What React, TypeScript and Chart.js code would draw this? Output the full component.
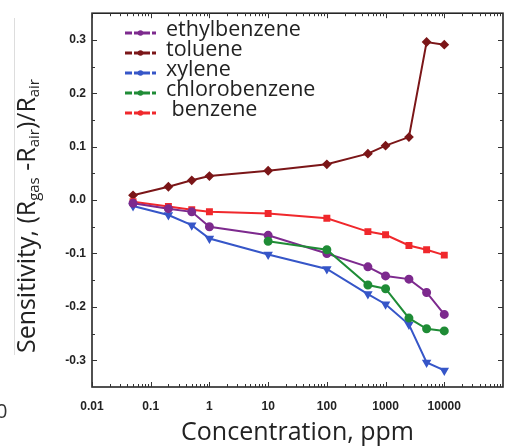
import React, { useEffect, useRef } from "react";
import { Chart, registerables } from "chart.js";

Chart.register(...registerables);

const concentrations = [0.05, 0.2, 0.5, 1, 10, 100, 500, 1000, 2500, 5000, 10000];
const ethylbenzene = [-0.006, -0.016, -0.022, -0.05, -0.066, -0.1, -0.125, -0.142, -0.148, -0.173, -0.214];
const toluene = [0.009, 0.025, 0.037, 0.045, 0.055, 0.067, 0.087, 0.102, 0.118, 0.296, 0.291];
const xylene = [-0.011, -0.028, -0.047, -0.072, -0.102, -0.129, -0.176, -0.195, -0.233, -0.304, -0.319];
const chlorobenzene = [null, null, null, null, -0.077, -0.093, -0.159, -0.166, -0.221, -0.241, -0.245];
const benzene = [-0.003, -0.012, -0.018, -0.022, -0.025, -0.034, -0.059, -0.065, -0.085, -0.093, -0.103];

const seriesNames = ["ethylbenzene", "toluene", "xylene", "chlorobenzene", "benzene"];
const legendLabels = ["ethylbenzene", "toluene", "xylene", "chlorobenzene", " benzene"];
const seriesValues = [ethylbenzene, toluene, xylene, chlorobenzene, benzene];
const seriesColors = ["#7d2a8e", "#7b1618", "#3656c8", "#1f8c36", "#f0282c"];
const seriesPoints = ["circle", "rectRot", "triangle", "circle", "rect"];
const seriesRotation = [0, 0, 180, 0, 0];
const seriesOrder = [2, 3, 3, 1, 2];

const xTickValues = [0.01, 0.1, 1, 10, 100, 1000, 10000];
const xTickLabels = ["0.01", "0.1", "1", "10", "100", "1000", "10000"];
const yTickValues = [0.3, 0.2, 0.1, 0.0, -0.1, -0.2, -0.3];
const yTickLabels = ["0.3", "0.2", "0.1", "0.0", "-0.1", "-0.2", "-0.3"];

const xTitle = "Concentration, ppm";
const yTitleParts: { t: string; sub: boolean }[] = [
  { t: "Sensitivity, (R", sub: false },
  { t: "gas", sub: true },
  { t: " -R", sub: false },
  { t: "air", sub: true },
  { t: ")/R", sub: false },
  { t: "air", sub: true },
];

const TITLE_FONT = '"Open Sans", "Liberation Sans", sans-serif';

function fitSize(ctx: CanvasRenderingContext2D, text: string, target: number, family: string) {
  ctx.font = `100px ${family}`;
  const w = ctx.measureText(text).width;
  return (100 * target) / w;
}

const decor = {
  id: "decor",
  afterDraw(chart: any) {
    const { ctx, chartArea: a, scales } = chart;
    const xs = scales.x;
    const ys = scales.y;
    ctx.save();
    // frame
    ctx.strokeStyle = "#262626";
    ctx.lineWidth = 1.6;
    ctx.strokeRect(a.left, a.top, a.right - a.left, a.bottom - a.top);
    // ticks
    ctx.lineWidth = 1;
    ctx.strokeStyle = "#333";
    const seg = (x1: number, y1: number, x2: number, y2: number) => {
      ctx.beginPath();
      ctx.moveTo(x1, y1);
      ctx.lineTo(x2, y2);
      ctx.stroke();
    };
    for (let d = -2; d < 5; d++) {
      for (let m = 1; m <= 9; m++) {
        const v = m * Math.pow(10, d);
        const px = Math.round(xs.getPixelForValue(v)) + 0.5;
        const len = m === 1 ? 5 : 3;
        seg(px, a.bottom, px, a.bottom - len);
        seg(px, a.top, px, a.top + len);
      }
    }
    for (let k = -6; k <= 6; k++) {
      const py = Math.round(ys.getPixelForValue(k * 0.05)) + 0.5;
      const len = k % 2 === 0 ? 5 : 3;
      seg(a.left, py, a.left + len, py);
      seg(a.right, py, a.right - len, py);
    }

    // x title
    ctx.fillStyle = "#222";
    const xs2 = fitSize(ctx, xTitle, 233, TITLE_FONT);
    ctx.font = `${xs2}px ${TITLE_FONT}`;
    ctx.textAlign = "center";
    ctx.textBaseline = "alphabetic";
    ctx.fillText(xTitle, (a.left + a.right) / 2, 440);

    // y title with subscripts
    const base = 20;
    const subSize = 12;
    let total = 0;
    const widths = yTitleParts.map((p) => {
      ctx.font = `${p.sub ? subSize : base}px ${TITLE_FONT}`;
      const w = ctx.measureText(p.t).width;
      total += w;
      return w;
    });
    const scale = 274 / total;
    ctx.save();
    ctx.translate(35, 216);
    ctx.rotate(-Math.PI / 2);
    ctx.textAlign = "left";
    let cx = -274 / 2;
    yTitleParts.forEach((p, i) => {
      ctx.font = `${(p.sub ? subSize : base) * scale}px ${TITLE_FONT}`;
      ctx.fillText(p.t, cx, p.sub ? 4 : 0);
      cx += widths[i] * scale;
    });
    ctx.restore();

    // legend
    const lsize = fitSize(ctx, legendLabels[0], 135, TITLE_FONT);
    seriesNames.forEach((_, i) => {
      const ly = 33 + i * 20;
      ctx.strokeStyle = seriesColors[i];
      ctx.lineWidth = 3;
      ctx.setLineDash([7, 2]);
      seg(125, ly, 156, ly);
      ctx.setLineDash([]);
      ctx.fillStyle = seriesColors[i];
      ctx.beginPath();
      ctx.arc(140.5, ly, 2.8, 0, Math.PI * 2);
      ctx.fill();
      ctx.fillStyle = "#222";
      ctx.font = `${lsize}px ${TITLE_FONT}`;
      ctx.textAlign = "left";
      ctx.textBaseline = "alphabetic";
      ctx.fillText(legendLabels[i], 166, ly + 3);
    });

    // stray fragments at the left edge of the crop
    ctx.strokeStyle = "#dddddd";
    ctx.lineWidth = 1;
    seg(14.5, 18, 14.5, 355);
    ctx.fillStyle = "#333";
    ctx.font = `20px ${TITLE_FONT}`;
    ctx.fillText("0", -4, 418);
    ctx.restore();
  },
};

export default function App() {
  const ref = useRef<HTMLCanvasElement | null>(null);
  useEffect(() => {
    const canvas = ref.current;
    if (!canvas) return;
    const datasets = seriesNames.map((name, i) => ({
      label: name,
      data: concentrations
        .map((c, j) => ({ x: c, y: seriesValues[i][j] }))
        .filter((p) => p.y !== null),
      borderColor: seriesColors[i],
      backgroundColor: seriesColors[i],
      pointBackgroundColor: seriesColors[i],
      pointBorderColor: seriesColors[i],
      pointStyle: seriesPoints[i] as any,
      rotation: seriesRotation[i],
      pointRadius: 3.5,
      borderWidth: 2,
      tension: 0,
      order: seriesOrder[i],
    }));
    const tickFont = { family: '"Liberation Sans", Arial, sans-serif', size: 12, weight: "bold" as const };
    const chart = new Chart(canvas, {
      type: "line",
      data: { datasets },
      options: {
        responsive: false,
        animation: false,
        layout: { padding: { left: 0, right: 9, top: 6, bottom: 0 } },
        plugins: { legend: { display: false }, tooltip: { enabled: false } },
        scales: {
          x: {
            type: "logarithmic",
            min: 0.01,
            max: 100000,
            grid: { display: false, drawTicks: false },
            border: { display: false },
            afterBuildTicks: (s: any) => {
              s.ticks = xTickValues.map((v) => ({ value: v }));
            },
            afterFit: (s: any) => {
              s.height = 59;
            },
            ticks: {
              callback: (_v: any, i: number) => xTickLabels[i],
              font: tickFont,
              color: "#222",
              padding: 12,
              maxRotation: 0,
              autoSkip: false,
            },
          },
          y: {
            type: "linear",
            min: -0.35,
            max: 0.35,
            grid: { display: false, drawTicks: false },
            border: { display: false },
            afterBuildTicks: (s: any) => {
              s.ticks = yTickValues.map((v) => ({ value: v }));
            },
            afterFit: (s: any) => {
              s.width = 92;
            },
            ticks: {
              callback: (_v: any, i: number) => yTickLabels[i],
              font: tickFont,
              color: "#222",
              padding: 6,
              autoSkip: false,
            },
          },
        },
      },
      plugins: [decor],
    });
    return () => chart.destroy();
  }, []);
  return (
    <div style={{ position: "absolute", left: 0, top: 0, width: 512, height: 446, background: "#fff" }}>
      <canvas ref={ref} width={512} height={446} style={{ display: "block" }} />
    </div>
  );
}
